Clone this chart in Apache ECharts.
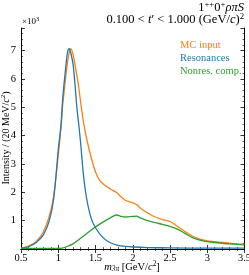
<!DOCTYPE html>
<html><head><meta charset="utf-8">
<script src="https://cdn.jsdelivr.net/npm/echarts@6/dist/echarts.min.js"></script>
<style>html,body{margin:0;padding:0;background:#fff}#c{width:249px;height:275px}</style>
</head><body><div id="c"></div>
<script>
// MC input (orange)
const mcMass = [0.5,0.6,0.7,0.8,0.9,0.95,1.0,1.04,1.06,1.09,1.12,1.145,1.17,1.2,1.225,1.27,1.305,1.345,1.4,1.45,1.5,1.55,1.6,1.7,1.78,1.85,1.9,2.0,2.05,2.1,2.2,2.3,2.4,2.5,2.6,2.7,2.8,2.9,3.0,3.1,3.2,3.3,3.4,3.5];
const mcVals = [0.02,0.1,0.26,0.6,1.35,2.1,3.3,4.38,5.09,5.8,6.5,6.9,7.07,6.85,6.5,5.8,5.09,4.38,3.67,3.15,2.72,2.45,2.3,2.12,2.0,1.82,1.72,1.63,1.57,1.45,1.27,1.13,1.04,0.97,0.8,0.62,0.46,0.35,0.29,0.26,0.23,0.2,0.18,0.17];
// Resonances (blue)
const resMass = [0.5,0.6,0.7,0.8,0.88,0.94,1.0,1.037,1.054,1.077,1.104,1.125,1.148,1.17,1.2,1.225,1.25,1.275,1.3,1.336,1.38,1.44,1.5,1.6,1.7,1.8,1.9,2.0,2.2,2.5,3.0,3.5];
const resVals = [0.02,0.08,0.22,0.5,1.0,1.8,3.5,4.38,5.09,5.8,6.5,6.95,7.07,6.9,6.5,5.8,5.0,4.4,3.75,2.67,1.8,1.1,0.75,0.4,0.22,0.13,0.09,0.07,0.05,0.04,0.03,0.03];
// Non-resonant component (green)
const nonMass = [0.5,0.8,1.0,1.05,1.1,1.2,1.3,1.4,1.5,1.6,1.7,1.78,1.85,1.9,2.0,2.05,2.1,2.2,2.3,2.4,2.5,2.6,2.7,2.8,2.9,3.0,3.1,3.2,3.3,3.4,3.5];
const nonVals = [0.02,0.02,0.02,0.03,0.07,0.18,0.38,0.58,0.78,0.95,1.1,1.2,1.15,1.13,1.15,1.16,1.1,1.0,0.93,0.87,0.8,0.7,0.55,0.4,0.31,0.26,0.23,0.2,0.18,0.16,0.14];
const seriesNames = ['MC input','Resonances','Nonres. comp.'];
const seriesColors = ['#ff7f0e','#1f77b4','#2ca02c'];
const xTicks = [0.5,1,1.5,2,2.5,3,3.5];
const yTicks = [1,2,3,4,5,6,7];

const FONT = 'Liberation Serif';
const zip = (a,b) => a.map((x,i)=>[x,b[i]]);
const chart = echarts.init(document.getElementById('c'), null, {renderer:'canvas'});
const tickCommon = {show:true, inside:true, length:4, lineStyle:{color:'#000', width:0.8}};
const minorCommon = {show:true, splitNumber:5, length:2, lineStyle:{color:'#000', width:0.6}};
const axisLine = {show:true, lineStyle:{color:'#000', width:1}};
const xLab = v => xTicks.includes(v) ? String(v) : '';
const yLab = v => yTicks.includes(v) ? String(v) : '';
const richBase = (fs) => ({
  it:{fontFamily:FONT, fontStyle:'italic', fontSize:fs},
  sup:{fontFamily:FONT, fontSize:fs*0.7, padding:[0,0,fs*0.55,0]},
  sub:{fontFamily:FONT, fontStyle:'italic', fontSize:fs*0.7, padding:[fs*0.45,0,0,0]}
});
chart.setOption({
  animation:false,
  grid:{left:21, right:4.5, top:28, bottom:26, containLabel:false, outerBoundsMode:'none'},
  xAxis:[
    {type:'value', min:0.5, max:3.5, interval:0.5, position:'bottom',
     axisLine, axisTick:tickCommon, minorTick:minorCommon, splitLine:{show:false},
     axisLabel:{formatter:xLab, fontFamily:FONT, fontSize:10.5, color:'#000', margin:4}},
    {type:'value', min:0.5, max:3.5, interval:0.5, position:'top',
     axisLine, axisTick:tickCommon, minorTick:minorCommon, splitLine:{show:false}, axisLabel:{show:false}}
  ],
  yAxis:[
    {type:'value', min:0, max:7.8, interval:1, position:'left',
     axisLine, axisTick:tickCommon, minorTick:minorCommon, splitLine:{show:false},
     axisLabel:{formatter:yLab, fontFamily:FONT, fontSize:10.5, color:'#000', margin:5}},
    {type:'value', min:0, max:7.8, interval:1, position:'right',
     axisLine, axisTick:tickCommon, minorTick:minorCommon, splitLine:{show:false}, axisLabel:{show:false}}
  ],
  legend:{orient:'vertical', left:170, top:35, itemGap:2, itemWidth:0, itemHeight:0, icon:'none',
    data:seriesNames.map((n,i)=>({name:n, textStyle:{color:seriesColors[i], fontFamily:FONT, fontSize:10.5}})),
    textStyle:{fontFamily:FONT, fontSize:10.5}},
  graphic:[
    {type:'text', right:5, top:0, style:{text:'1{sup|++}0{sup|+}{it|ρπS}', fontFamily:FONT, fontSize:12.5, fill:'#000', rich:richBase(12.5)}},
    {type:'text', right:5, top:12, style:{text:'0.100 < {it|t}′ < 1.000 (GeV/{it|c}){sup|2}', fontFamily:FONT, fontSize:12.5, fill:'#000', rich:richBase(12.5)}},
    {type:'text', left:22, top:16, style:{text:'×10{sup|3}', fontFamily:FONT, fontSize:9, fill:'#000', rich:richBase(9)}},
    {type:'text', x:132, y:267, style:{text:'{it|m}{sub|3π} [GeV/{it|c}{sup|2}]', fontFamily:FONT, fontSize:10.5, fill:'#000', align:'center', verticalAlign:'middle', rich:richBase(10.5)}},
    {type:'text', x:6, y:138, rotation:Math.PI/2, style:{text:'Intensity / (20 MeV/{it|c}{sup|2})', fontFamily:FONT, fontSize:10, fill:'#000', align:'center', verticalAlign:'middle', rich:richBase(10)}}
  ],
  series:[
    {name:seriesNames[0], type:'line', data:zip(mcMass,mcVals), smooth:0.3, showSymbol:false, lineStyle:{color:seriesColors[0], width:1.3}, itemStyle:{color:seriesColors[0]}, z:2},
    {name:seriesNames[1], type:'line', data:zip(resMass,resVals), smooth:0.3, showSymbol:false, lineStyle:{color:seriesColors[1], width:1.3}, itemStyle:{color:seriesColors[1]}, z:3},
    {name:seriesNames[2], type:'line', data:zip(nonMass,nonVals), smooth:0.3, showSymbol:false, lineStyle:{color:seriesColors[2], width:1.3}, itemStyle:{color:seriesColors[2]}, z:4}
  ]
});
</script></body></html>
